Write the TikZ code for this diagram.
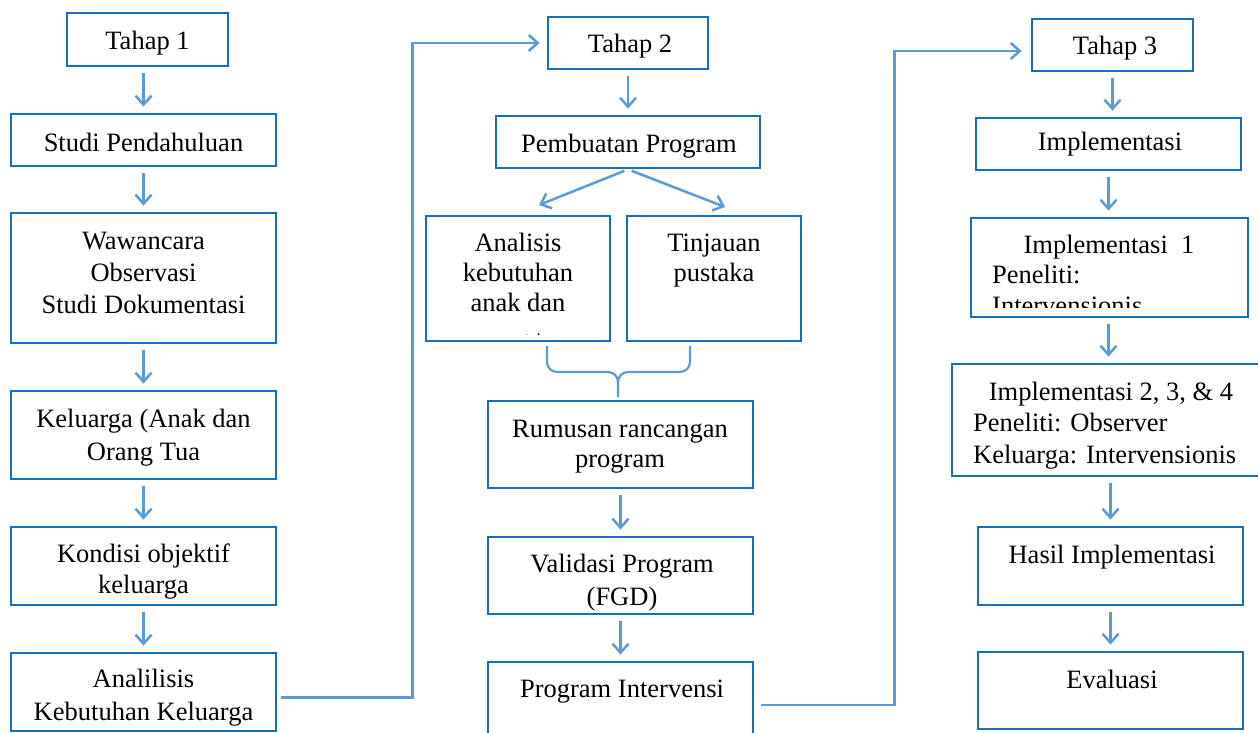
\documentclass[tikz,border=0pt]{standalone}
\usepackage{fontspec}
\setmainfont{Liberation Serif}
\usetikzlibrary{arrows.meta,fit}
\definecolor{boxblue}{RGB}{20,112,190}
\definecolor{lineblue}{RGB}{91,155,213}
\newcommand\diagfont{\fontsize{26.5}{32}\selectfont}
\begin{document}
\begin{tikzpicture}[x=1pt,y=-1pt,
  box/.style={draw=boxblue, line width=2.8pt, inner sep=0pt},
  txt/.style={inner sep=0pt, anchor=base, font=\diagfont, text=black},
  ltxt/.style={inner sep=0pt, anchor=base west, font=\diagfont, text=black},
  conn/.style={draw=lineblue, line width=2.5pt},
  arr/.style={conn, -{Straight Barb[length=9pt,width=16pt]}, shorten >=6pt, shorten <=6pt},
  brace/.style={draw=lineblue, line width=2.2pt}
]
\useasboundingbox (0,0) rectangle (1258,733);

% ---------- column 1 ----------
\node[box, fit={(67,13)(228,66)}] (t1) {};
\node[txt] (t1a) at (147.5,50) {Tahap 1};
\node[box, fit={(11,114)(276,166)}] (sp) {};
\node[txt] (spa) at (143.5,152) {Studi Pendahuluan};
\node[box, fit={(11,213)(276,343)}] (wa) {};
\node[txt] (waa) at (143.5,249) {Wawancara};
\node[txt] (wab) at (143.5,281) {Observasi};
\node[txt] (wac) at (143.5,313) {Studi Dokumentasi};
\node[box, fit={(11,391)(276,479)}] (ke) {};
\node[txt] (kea) at (143.5,427) {Keluarga (Anak dan};
\node[txt] (keb) at (143.5,460) {Orang Tua};
\node[box, fit={(11,527)(276,605)}] (ko) {};
\node[txt] (koa) at (143.5,562) {Kondisi objektif};
\node[txt] (kob) at (143.5,593) {keluarga};
\node[box, fit={(11,653)(276,731)}] (an) {};
\node[txt] (ana1) at (143.5,687) {Analilisis};
\node[txt] (ana2) at (143.5,720) {Kebutuhan Keluarga};

\draw[arr] (t1.south -| sp.north) -- (sp.north);
\draw[arr] (sp.south) -- (sp.south |- wa.north);
\draw[arr] (wa.south) -- (wa.south |- ke.north);
\draw[arr] (ke.south) -- (ke.south |- ko.north);
\draw[arr] (ko.south) -- (ko.south |- an.north);

% ---------- column 2 ----------
\node[box, fit={(548,17)(708,69)}] (t2) {};
\node[txt] (t2a) at (630,53) {Tahap 2};
\node[box, fit={(496,116)(760,168)}] (pp) {};
\node[txt] (ppa) at (629,153) {Pembuatan Program};
\node[box, fit={(426,216)(610,341)}] (ana) {};
\node[txt] (anaa) at (518,251) {Analisis};
\node[txt] (anab) at (518,281) {kebutuhan};
\node[txt] (anac) at (518,311) {anak dan};
\begin{scope}
  \clip (428,218) rectangle (608,334);
  \node[txt] (anad) at (518,348) {orang tua};
\end{scope}
\node[box, fit={(627,216)(801,341)}] (tin) {};
\node[txt] (tina) at (714,251) {Tinjauan};
\node[txt] (tinb) at (714,281) {pustaka};
\node[box, fit={(488,401)(753,488)}] (ru) {};
\node[txt] (rua) at (620,437) {Rumusan rancangan};
\node[txt] (rub) at (620,467) {program};
\node[box, fit={(488,537)(753,614)}] (va) {};
\node[txt] (vaa) at (622,572) {Validasi Program};
\node[txt] (vab) at (622,605) {(FGD)};
\node[box, fit={(488,662)(753,760)}] (pi) {};
\node[txt] (pia) at (622,697) {Program Intervensi};

\coordinate (pl) at (539,205);
\coordinate (pr) at (725,207);
\draw[arr] (t2.south) -- (t2.south |- pp.north);
\draw[arr, shorten >=0pt, shorten <=4pt] (pp.south) -- (pl);
\draw[arr, shorten >=0pt, shorten <=4pt] (pp.south) -- (pr);
\draw[arr] (ru.south) -- (ru.south |- va.north);
\draw[arr] (va.south) -- (va.south |- pi.north);

% brace
\coordinate (bl) at (547,346);
\coordinate (br) at (690,346);
\coordinate (bm) at (618,397);
\draw[brace] (bl) -- (547,362) to[out=-90,in=180] (557,372) -- (608,372)
  to[out=0,in=90] (618,382) -- (bm);
\draw[brace] (br) -- (690,362) to[out=-90,in=0] (680,372) -- (628,372)
  to[out=180,in=90] (618,382);

% ---------- column 3 ----------
\node[box, fit={(1032,19)(1193,71)}] (t3) {};
\node[txt] (t3a) at (1115,55) {Tahap 3};
\node[box, fit={(976,118)(1241,170)}] (im) {};
\node[txt] (ima) at (1110,150) {Implementasi};
\node[box, fit={(971,218)(1248,317)}] (i1) {};
\node[txt] (i1a) at (1109,253) {Implementasi\ \ 1};
\node[ltxt] (i1b) at (992,283) {Peneliti:};
\begin{scope}
  \clip (973,220) rectangle (1246,307);
  \node[ltxt] (i1c) at (992,314) {Intervensionis};
\end{scope}
\node[box, fit={(952,364)(1264,476)}] (i2) {};
\node[txt] (i2a) at (1111,400) {Implementasi 2, 3, \& 4};
\node[ltxt] (i2b) at (973,431) {Peneliti: Observer};
\node[ltxt] (i2c) at (973,463) {Keluarga: Intervensionis};
\node[box, fit={(978,527)(1243,605)}] (ha) {};
\node[txt] (haa) at (1112,563) {Hasil Implementasi};
\node[box, fit={(978,652)(1243,729)}] (ev) {};
\node[txt] (eva) at (1112,688) {Evaluasi};

\draw[arr] (t3.south) -- (t3.south |- im.north);
\draw[arr] (im.south) -- (im.south |- i1.north);
\draw[arr] ([xshift=-1pt]i1.south) -- ([xshift=-1pt]i1.south |- i2.north);
\draw[arr] (ha.north |- i2.south) -- (ha.north);
\draw[arr] (ha.south) -- (ha.south |- ev.north);

% ---------- stage connectors ----------
\draw[conn, -{Straight Barb[length=9pt,width=16pt]}, shorten <=4pt, shorten >=7pt]
  ([yshift=-5.5pt]an.east) -- ++(135,0) |- (t2.west);
\draw[conn, -{Straight Barb[length=9pt,width=16pt]}, shorten <=7pt, shorten >=9pt]
  (pi.east |- 0,705) -- ++(140,0) |- ([yshift=-6pt]t3.west);
\end{tikzpicture}
\end{document}
